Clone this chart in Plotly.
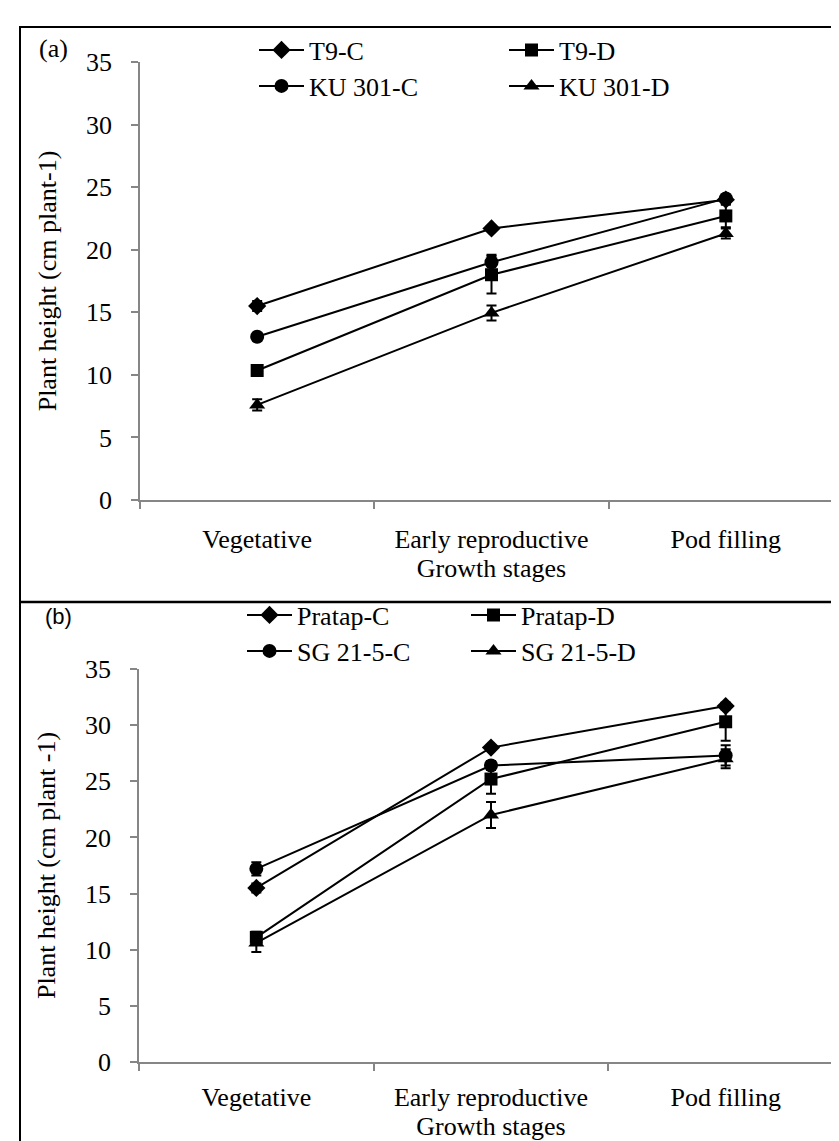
import plotly.graph_objects as go

W, H = 839, 1141

stages = ["Vegetative", "Early reproductive", "Pod filling"]
y_ticks = [0, 5, 10, 15, 20, 25, 30, 35]

# Panel (a)
a_names = ["T9-C", "T9-D", "KU 301-C", "KU 301-D"]
a_t9c = [15.5, 21.7, 24.0]
a_t9d = [10.35, 18.0, 22.7]
a_ku301c = [13.05, 19.0, 24.1]
a_ku301d = [7.6, 14.95, 21.3]
a_t9c_err = [0.4, 0.2, 0.3]
a_t9d_err = [0.3, 1.5, 0.9]
a_ku301c_err = [0.3, 0.6, 0.3]
a_ku301d_err = [0.45, 0.6, 0.4]

# Panel (b)
b_names = ["Pratap-C", "Pratap-D", "SG 21-5-C", "SG 21-5-D"]
b_pratapc = [15.5, 28.0, 31.7]
b_pratapd = [11.1, 25.2, 30.3]
b_sgc = [17.2, 26.4, 27.3]
b_sgd = [10.6, 22.0, 27.0]
b_pratapc_err = [0.4, 0.2, 0.3]
b_pratapd_err = [0.5, 1.3, 1.7]
b_sgc_err = [0.6, 0.4, 0.9]
b_sgd_err = [0.8, 1.15, 0.85]

symbols = ["diamond", "square", "circle", "triangle-up"]
sizes = [14, 13, 14, 14]

SERIF = "Liberation Serif"
SANS = "Liberation Sans"
FS = 26
GRAY = "#868686"

def px_x(p):
    return p / W

def px_y(p):
    return 1 - p / H

fig = go.Figure()

a_vals = [a_t9c, a_t9d, a_ku301c, a_ku301d]
a_errs = [a_t9c_err, a_t9d_err, a_ku301c_err, a_ku301d_err]
b_vals = [b_pratapc, b_pratapd, b_sgc, b_sgd]
b_errs = [b_pratapc_err, b_pratapd_err, b_sgc_err, b_sgd_err]

# legend positions (pixel): column x, row y
a_leg_pos = [(246, 42), (496, 42), (246, 78), (496, 78)]
b_leg_pos = [(234, 607), (458, 607), (234, 643), (458, 643)]

legend_layouts = {}

def add_panel(vals, errs, names, positions, xa, ya, first_idx):
    for i in range(4):
        idx = first_idx + i
        lname = "legend" if idx == 1 else f"legend{idx}"
        fig.add_trace(go.Scatter(
            x=stages, y=vals[i], name=names[i], mode="lines+markers",
            line=dict(color="black", width=2),
            marker=dict(symbol=symbols[i], size=sizes[i], color="black"),
            error_y=dict(type="data", array=errs[i], color="black", thickness=2, width=5),
            xaxis=xa, yaxis=ya, legend=lname,
        ))
        legend_layouts[lname] = dict(
            x=px_x(positions[i][0]), y=px_y(positions[i][1]),
            xanchor="left", yanchor="middle",
            font=dict(family=SERIF, size=FS, color="black"),
            bgcolor="rgba(0,0,0,0)", borderwidth=0, itemwidth=45, tracegroupgap=0,
        )

add_panel(a_vals, a_errs, a_names, a_leg_pos, "x", "y", 1)
add_panel(b_vals, b_errs, b_names, b_leg_pos, "x2", "y2", 5)

def xaxis_cfg(domain, anchor, label_gap):
    return dict(
        domain=domain, anchor=anchor, type="category", range=[-0.5, 2.5],
        tickson="boundaries", ticks="outside", ticklen=7, tickcolor=GRAY, tickwidth=1.5,
        showline=True, linecolor=GRAY, linewidth=1.5, showgrid=False, zeroline=False,
        tickfont=dict(family=SERIF, size=FS, color="black"), ticklabelstandoff=label_gap,
        title=dict(text="Growth stages", font=dict(family=SERIF, size=FS, color="black"), standoff=0),
        automargin=False, fixedrange=True,
    )

def yaxis_cfg(domain, anchor, title):
    return dict(
        domain=domain, anchor=anchor, range=[0, 35], tickvals=y_ticks,
        ticks="outside", ticklen=7, tickcolor=GRAY, tickwidth=1.5,
        showline=True, linecolor=GRAY, linewidth=1.5, showgrid=False, zeroline=False,
        tickfont=dict(family=SERIF, size=FS, color="black"), ticklabelstandoff=14,
        title=dict(text=title, font=dict(family=SERIF, size=FS, color="black"), standoff=22),
        automargin=False, fixedrange=True,
    )

layout = dict(
    width=W, height=H, margin=dict(l=0, r=0, t=0, b=0),
    paper_bgcolor="white", plot_bgcolor="white", showlegend=True,
    xaxis=xaxis_cfg([px_x(132), px_x(835)], "y", 15),
    yaxis=yaxis_cfg([px_y(492), px_y(54)], "x", "Plant height (cm plant-1)"),
    xaxis2=xaxis_cfg([px_x(131), px_x(835)], "y2", 11),
    yaxis2=yaxis_cfg([px_y(1054), px_y(661)], "x2", "Plant height (cm plant -1)"),
    shapes=[
        dict(type="rect", xref="paper", yref="paper", x0=px_x(12), x1=px_x(837.5),
             y0=px_y(1140), y1=px_y(19), line=dict(color="black", width=2)),
        dict(type="line", xref="paper", yref="paper", x0=px_x(12), x1=px_x(837.5),
             y0=px_y(594), y1=px_y(594), line=dict(color="black", width=2.5)),
    ],
    annotations=[
        dict(text="(a)", xref="paper", yref="paper", x=px_x(45), y=px_y(40),
             xanchor="center", yanchor="middle", showarrow=False,
             font=dict(family=SERIF, size=FS, color="black")),
        dict(text="(b)", xref="paper", yref="paper", x=px_x(50), y=px_y(608),
             xanchor="center", yanchor="middle", showarrow=False,
             font=dict(family=SANS, size=22, color="black")),
    ],
)
layout.update(legend_layouts)
fig.update_layout(**layout)

fig.write_html("out.html")
